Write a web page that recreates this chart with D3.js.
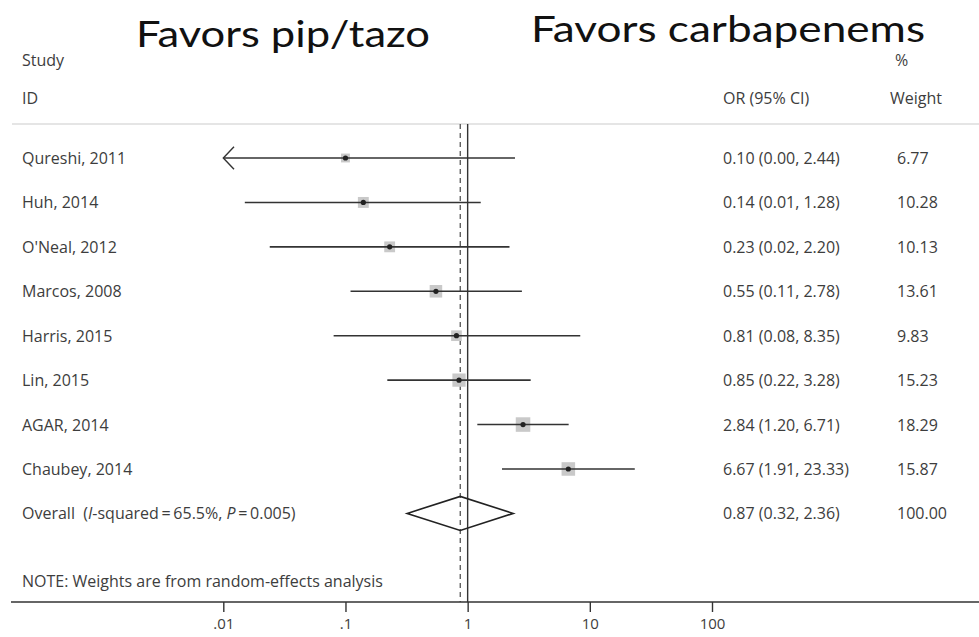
<!DOCTYPE html>
<html lang="en">
<head>
    <meta charset="utf-8">
    <title>Forest plot: pip/tazo vs carbapenems</title>
    <script src="https://cdnjs.cloudflare.com/ajax/libs/d3/7.8.5/d3.min.js"></script>
    <style>
        body { margin: 0; background: #fff; }
        svg text { font-family: "Open Sans", "Noto Sans", sans-serif; fill: #3d3d3d; white-space: pre; }
        .title text { fill: #111; font-family: Lato, "Open Sans", sans-serif; }
    </style>
</head>
<body>
<div id="chart"></div>
<script>
    // study data
    const studies = ["Qureshi, 2011", "Huh, 2014", "O'Neal, 2012", "Marcos, 2008",
        "Harris, 2015", "Lin, 2015", "AGAR, 2014", "Chaubey, 2014"];
    const orEst = [0.10, 0.14, 0.23, 0.55, 0.81, 0.85, 2.84, 6.67];
    const ciLow = [0.001, 0.015, 0.024, 0.11, 0.08, 0.22, 1.20, 1.91];
    const ciHigh = [2.44, 1.28, 2.20, 2.78, 8.35, 3.28, 6.71, 23.33];
    const ciText = ["0.10 (0.00, 2.44)", "0.14 (0.01, 1.28)", "0.23 (0.02, 2.20)", "0.55 (0.11, 2.78)",
        "0.81 (0.08, 8.35)", "0.85 (0.22, 3.28)", "2.84 (1.20, 6.71)", "6.67 (1.91, 23.33)"];
    const weights = [6.77, 10.28, 10.13, 13.61, 9.83, 15.23, 18.29, 15.87];
    const weightText = ["6.77", "10.28", "10.13", "13.61", "9.83", "15.23", "18.29", "15.87"];

    // pooled estimate: OR, low, high
    const overallEst = [0.87, 0.32, 2.36];
    const overallText = "0.87 (0.32, 2.36)";

    const tickValues = [0.01, 0.1, 1, 10, 100];
    const tickLabels = [".01", ".1", "1", "10", "100"];

    const W = 979, H = 637;
    const svg = d3.select("#chart").append("svg")
        .attr("width", W)
        .attr("height", H);

    var x = d3.scaleLog().domain([0.01, 100]).range([223.3, 712]);
    var y = d3.scaleLinear().domain([0, 8]).range([158, 513.4]);

    // titles (stretched to the width of the original slide font)
    const title = svg.append("g").attr("class", "title");
    title.append("text").attr("x", 136).attr("y", 47)
        .style("font-size", "37px")
        .attr("textLength", 294).attr("lengthAdjust", "spacingAndGlyphs")
        .text("Favors pip/tazo");
    title.append("text").attr("x", 531).attr("y", 42)
        .style("font-size", "37px")
        .attr("textLength", 394).attr("lengthAdjust", "spacingAndGlyphs")
        .text("Favors carbapenems");

    // column headers
    const hdr = svg.append("g").style("font-size", "16px");
    hdr.append("text").attr("x", 22).attr("y", 66).text("Study");
    hdr.append("text").attr("x", 22).attr("y", 104).text("ID");
    hdr.append("text").attr("x", 723).attr("y", 104).text("OR (95% CI)");
    hdr.append("text").attr("x", 895).attr("y", 66).text("%");
    hdr.append("text").attr("x", 890).attr("y", 104).text("Weight");

    svg.append("line")
        .attr("x1", 12).attr("x2", W).attr("y1", 124).attr("y2", 124)
        .attr("stroke", "#ccc").attr("stroke-width", 1.2);

    // null line and pooled estimate line
    svg.append("line")
        .attr("x1", x(1)).attr("x2", x(1)).attr("y1", 124).attr("y2", 602)
        .attr("stroke", "#333").attr("stroke-width", 1.4);
    svg.append("line")
        .attr("x1", x(overallEst[0])).attr("x2", x(overallEst[0])).attr("y1", 124).attr("y2", 602)
        .attr("stroke", "#555").attr("stroke-width", 1.3)
        .attr("stroke-dasharray", "5,4");

    const idx = d3.range(studies.length);
    const [xmin] = x.domain();

    // weight boxes
    svg.append("g").selectAll("rect").data(idx).join("rect")
        .attr("x", i => x(orEst[i]) - 1.7 * Math.sqrt(weights[i]))
        .attr("y", i => y(i) - 1.7 * Math.sqrt(weights[i]))
        .attr("width", i => 3.4 * Math.sqrt(weights[i]))
        .attr("height", i => 3.4 * Math.sqrt(weights[i]))
        .attr("fill", "#c9c9c9");

    // CI lines
    svg.append("g").selectAll("line").data(idx).join("line")
        .attr("x1", i => x(Math.max(ciLow[i], xmin)))
        .attr("x2", i => x(ciHigh[i]))
        .attr("y1", i => y(i)).attr("y2", i => y(i))
        .attr("stroke", "#333").attr("stroke-width", 1.6);

    // arrow where CI runs off the scale
    svg.append("g").selectAll("path").data(idx.filter(i => ciLow[i] < xmin)).join("path")
        .attr("d", i => {
            const x0 = x(xmin), y0 = y(i);
            return "M" + (x0 + 10.7) + "," + (y0 - 11.3) + "L" + x0 + "," + y0 + "L" + (x0 + 10.7) + "," + (y0 + 11.3);
        })
        .attr("fill", "none").attr("stroke", "#333").attr("stroke-width", 1.4);

    // point estimates
    svg.append("g").selectAll("circle").data(idx).join("circle")
        .attr("cx", i => x(orEst[i])).attr("cy", i => y(i))
        .attr("r", 2.6).attr("fill", "#222");

    // overall diamond
    const oy = y(8);
    svg.append("path")
        .attr("d", "M" + x(overallEst[1]) + "," + oy +
            "L" + x(overallEst[0]) + "," + (oy - 17) +
            "L" + x(overallEst[2]) + "," + oy +
            "L" + x(overallEst[0]) + "," + (oy + 17) + "Z")
        .attr("fill", "none").attr("stroke", "#222").attr("stroke-width", 1.6);

    // row labels
    const rows = svg.append("g").style("font-size", "16px");
    rows.selectAll("text.lab").data(idx).join("text").attr("class", "lab")
        .attr("x", 22).attr("y", i => y(i) + 6).text(i => studies[i]);
    rows.selectAll("text.ci").data(idx).join("text").attr("class", "ci")
        .attr("x", 723).attr("y", i => y(i) + 6).text(i => ciText[i]);
    rows.selectAll("text.wt").data(idx).join("text").attr("class", "wt")
        .attr("x", 897).attr("y", i => y(i) + 6).text(i => weightText[i]);

    const ov = rows.append("text").attr("x", 22).attr("y", oy + 6);
    ov.append("tspan").text("Overall  (");
    ov.append("tspan").style("font-style", "italic").text("I");
    ov.append("tspan").text("-squared\u2009=\u200965.5%, ");
    ov.append("tspan").style("font-style", "italic").text("P");
    ov.append("tspan").text("\u2009=\u20090.005)");
    rows.append("text").attr("x", 723).attr("y", oy + 6).text(overallText);
    rows.append("text").attr("x", 897).attr("y", oy + 6).text("100.00");

    rows.append("text").attr("x", 22).attr("y", 587)
        .text("NOTE: Weights are from random-effects analysis");

    // x axis
    svg.append("line")
        .attr("x1", 11).attr("x2", W).attr("y1", 602).attr("y2", 602)
        .attr("stroke", "#333").attr("stroke-width", 1.5);
    const axis = svg.append("g")
        .attr("transform", "translate(0,602)")
        .call(d3.axisBottom(x).tickValues(tickValues)
            .tickFormat((d, i) => tickLabels[i]).tickSize(10).tickPadding(6));
    axis.select(".domain").remove();
    axis.selectAll(".tick line").attr("stroke", "#333").attr("stroke-width", 1.4);
    axis.selectAll(".tick text").style("font-size", "15px")
        .style("font-family", "'Open Sans', sans-serif").attr("fill", "#3d3d3d");
</script>
</body>
</html>
